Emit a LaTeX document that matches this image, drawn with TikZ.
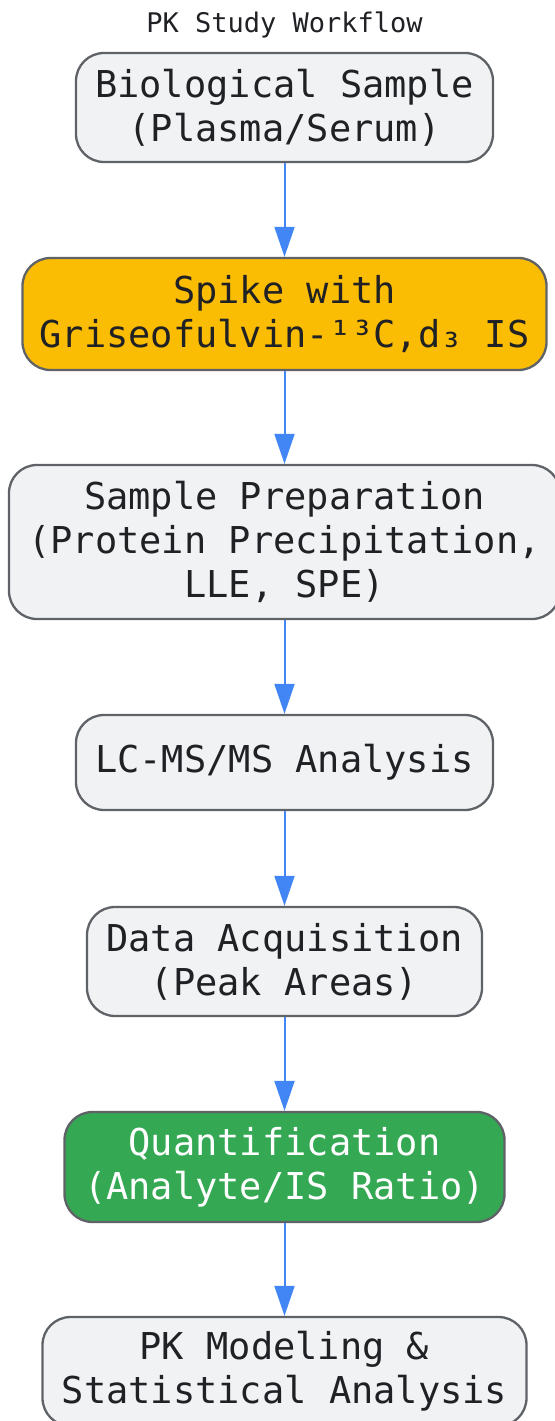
\documentclass[tikz,border=0pt]{standalone}
\usepackage{fontspec}
\setmonofont{DejaVu Sans Mono}
\usetikzlibrary{arrows.meta}
\definecolor{boxgray}{HTML}{F1F2F4}
\definecolor{edgegray}{HTML}{5F6368}
\definecolor{spikeyellow}{HTML}{FBBC04}
\definecolor{quantgreen}{HTML}{34A853}
\definecolor{flowblue}{HTML}{4285F4}
\definecolor{inkdark}{HTML}{202124}

\begin{document}
\begin{tikzpicture}[x=1bp,y=-1bp,
	stage/.style={draw=edgegray, line width=2.3bp, fill=boxgray, rounded corners=28bp,
		align=center, text=inkdark, inner sep=0pt,
		font=\ttfamily\fontsize{37bp}{44bp}\selectfont},
	flow/.style={draw=flowblue, line width=2bp, -{Triangle[length=30bp,width=20bp]}}]
		\useasboundingbox (0,0) rectangle (555,1421);
		
		%title
		\node[text=inkdark, font=\ttfamily\fontsize{27bp}{30bp}\selectfont] (title) at (284.5,25) {PK Study Workflow};
		
		%workflow stages
		\node[stage, minimum width=417bp, minimum height=109bp] (bio) at (284.5,107.5) {Biological Sample\\(Plasma/Serum)};
		\node[stage, fill=spikeyellow, minimum width=524bp, minimum height=112bp] (spike) at (284.5,314) {Spike with\\Griseofulvin-¹³C,d₃ IS};
		\node[stage, minimum width=551bp, minimum height=154bp] (prep) at (284.5,542) {Sample Preparation\\(Protein Precipitation,\\LLE, SPE)};
		\node[stage, minimum width=417bp, minimum height=95bp] (lcms) at (284.5,762.5) {LC-MS/MS Analysis};
		\node[stage, minimum width=395bp, minimum height=109bp] (acq) at (284.5,961.5) {Data Acquisition\\(Peak Areas)};
		\node[stage, fill=quantgreen, text=white, minimum width=440bp, minimum height=110bp] (quant) at (284.5,1167) {Quantification\\(Analyte/IS Ratio)};
		\node[stage, minimum width=484bp, minimum height=109bp] (pkmod) at (284.5,1371.5) {PK Modeling \&\\Statistical Analysis};
		
		%arrows
		\foreach \a/\b in {bio/spike,spike/prep,prep/lcms,lcms/acq,acq/quant,quant/pkmod}
		\draw[flow] (\a) -- (\b);
\end{tikzpicture}
\end{document}
